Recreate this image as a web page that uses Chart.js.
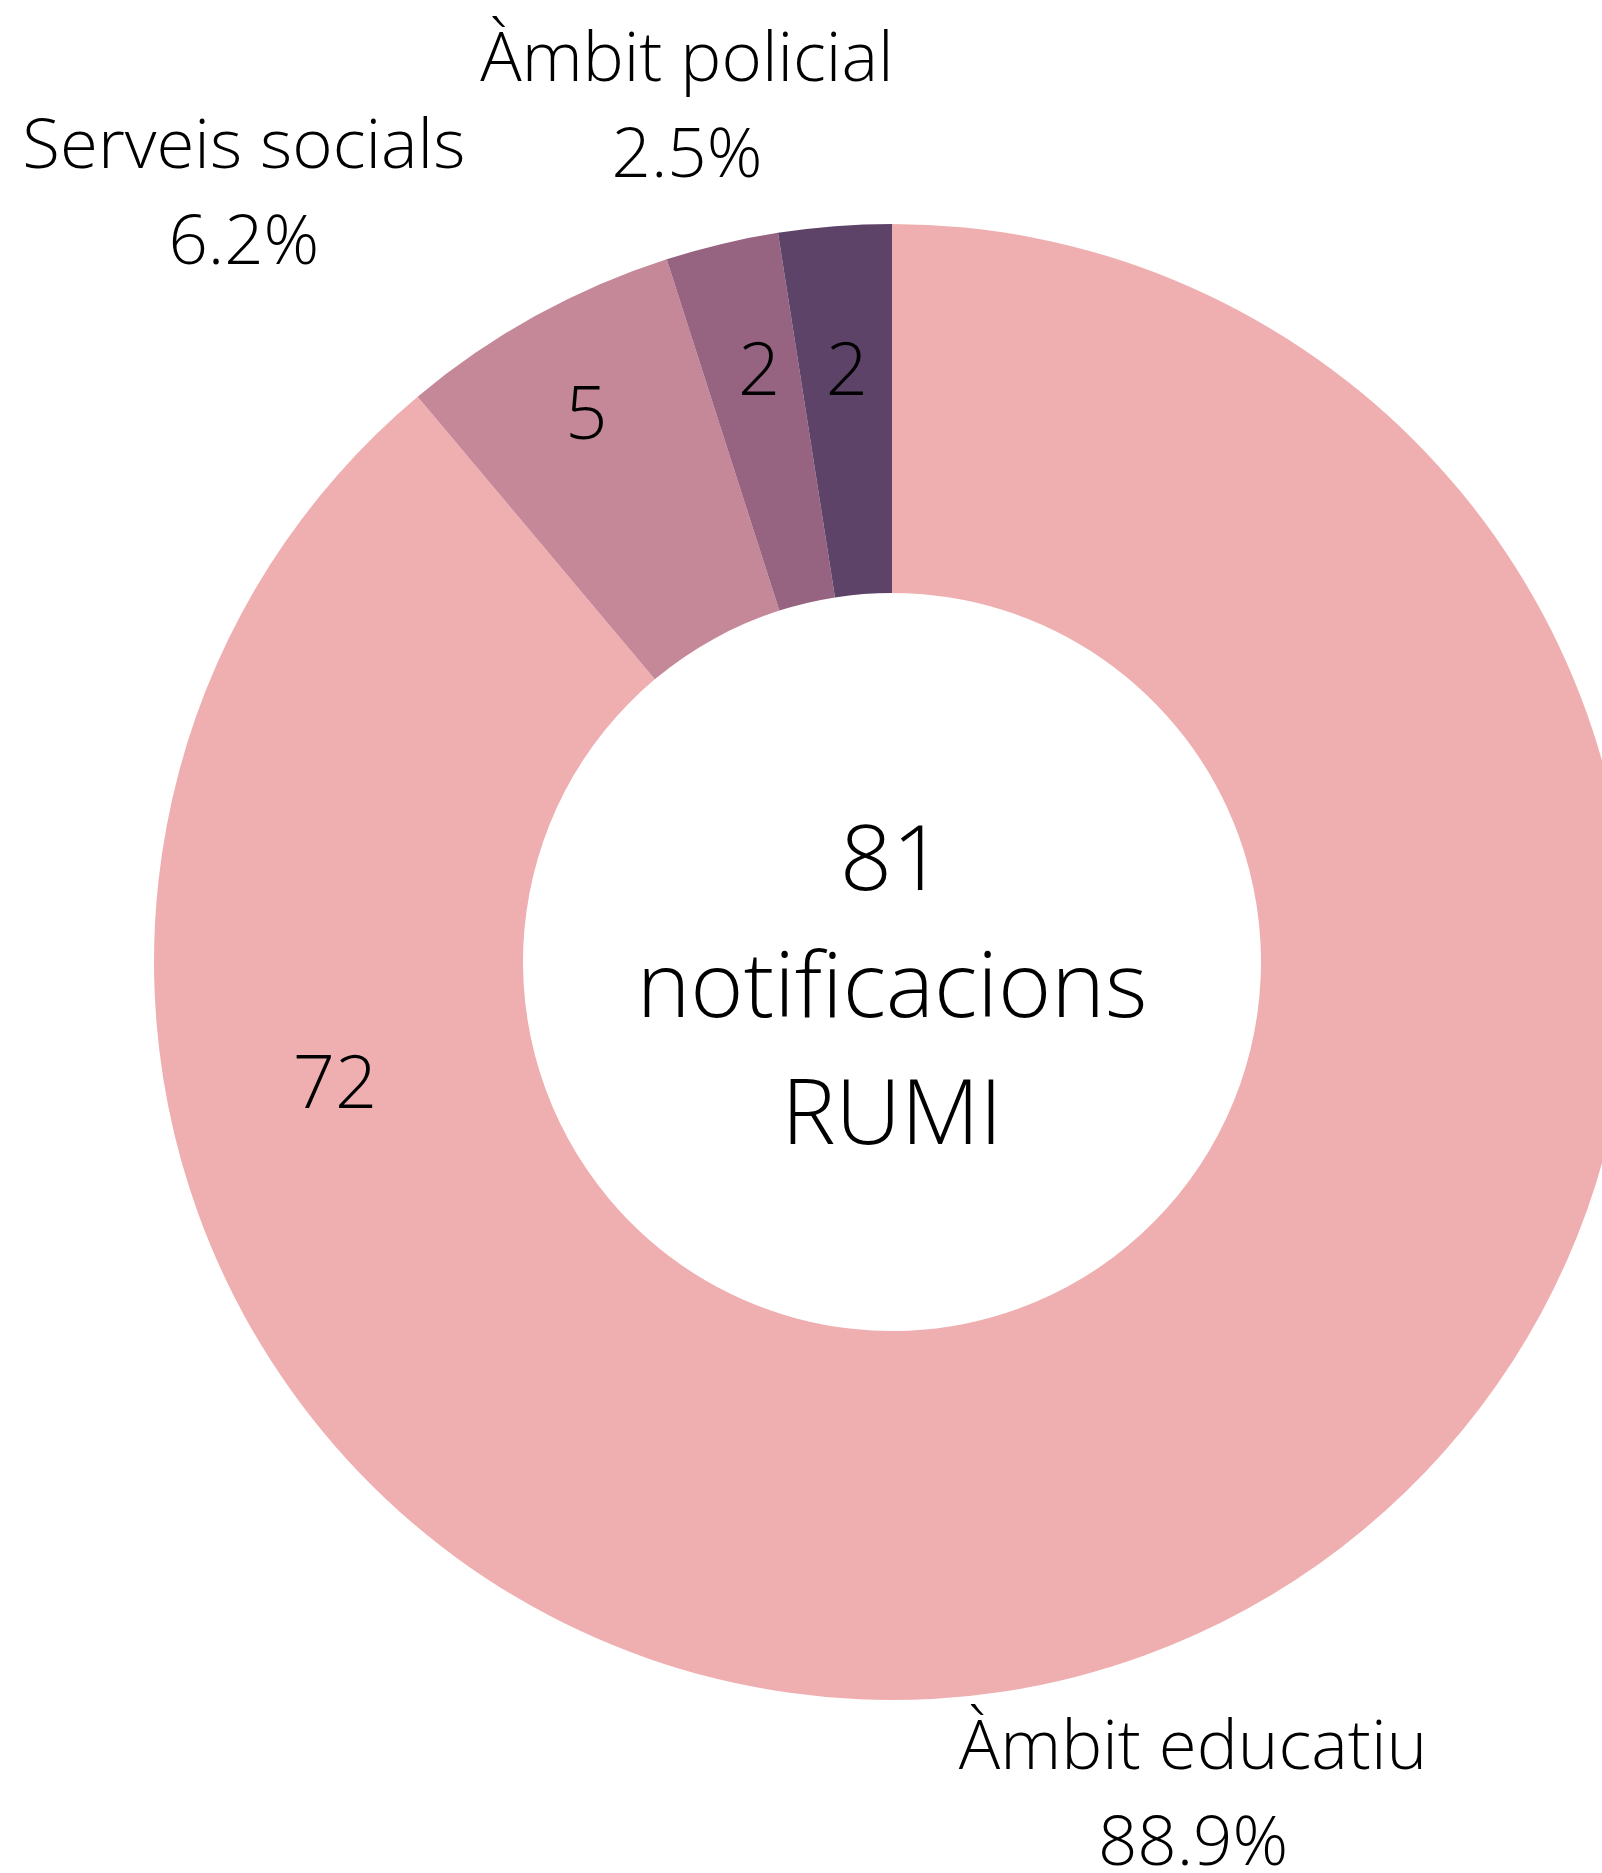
<!DOCTYPE html>
<html lang="ca">
<head>
<meta charset="utf-8">
<title>Notificacions RUMI</title>
<script src="https://cdn.jsdelivr.net/npm/chart.js@4/dist/chart.umd.min.js"></script>
<style>
    html, body {
        margin: 0;
        padding: 0;
        background: #ffffff;
        overflow: hidden;
    }
    #wrap {
        position: absolute;
        left: 0;
        top: 0;
        width: 1784px;
        height: 1873px;
    }
</style>
</head>
<body>
<div id="wrap">
    <canvas id="rumiChart" width="1784" height="1873"></canvas>
</div>
<script>
// Dades
const categories = ['Àmbit educatiu', 'Serveis socials', 'Àmbit policial', ''];
const values = [72, 5, 2, 2];
const centerLines = ['notificacions', 'RUMI'];

// Colors de les porcions
const sliceColors = ['#EFAFB0', '#C48898', '#966381', '#5E4369'];

// Col·locació de les etiquetes (desplaçament angular en graus, distància en fracció del radi exterior)
const valueAngleShift = [97.9, -0.2, 0.7, 0.1];
const valueDist = [0.772, 0.852, 0.824, 0.807];
const outerAngleShift = [0.6, -12.1, -0.5, 0];
const outerDist = [1.228, 1.339, 1.162, 0];

const fontFamily = '"Open Sans", "Noto Sans", sans-serif';
const textColor = '#000000';

const total = values.reduce((a, b) => a + b, 0);

const labelPlugin = {
    id: 'rumiLabels',
    afterDraw(chart) {
        const ctx = chart.ctx;
        const arcs = chart.getDatasetMeta(0).data;
        if (!arcs.length) return;
        const cx = arcs[0].x;
        const cy = arcs[0].y;
        const outerR = arcs[0].outerRadius;

        ctx.save();
        ctx.fillStyle = textColor;
        ctx.textAlign = 'center';
        ctx.textBaseline = 'alphabetic';

        // Valors dins de les porcions
        const valueSize = 74;
        ctx.font = `300 ${valueSize}px ${fontFamily}`;
        arcs.forEach((arc, i) => {
            const mid = (arc.startAngle + arc.endAngle) / 2 + valueAngleShift[i] * Math.PI / 180;
            const r = outerR * valueDist[i];
            const x = cx + Math.cos(mid) * r;
            const y = cy + Math.sin(mid) * r;
            ctx.fillText(String(values[i]), x, y + valueSize * 0.357);
        });

        // Etiquetes exteriors amb percentatge
        const outerSize = 69;
        const outerLineH = 96;
        ctx.font = `300 ${outerSize}px ${fontFamily}`;
        arcs.forEach((arc, i) => {
            if (!categories[i]) return;
            const mid = (arc.startAngle + arc.endAngle) / 2 + outerAngleShift[i] * Math.PI / 180;
            const r = outerR * outerDist[i];
            const x = cx + Math.cos(mid) * r;
            const y = cy + Math.sin(mid) * r;
            const pct = (values[i] / total * 100).toFixed(1) + '%';
            ctx.fillText(categories[i], x, y - outerLineH / 2);
            ctx.fillText(pct, x, y + outerLineH / 2);
        });

        // Text central
        const centerSize = 91;
        const centerLineH = 127;
        ctx.font = `300 ${centerSize}px ${fontFamily}`;
        const lines = [String(total), ...centerLines];
        const base = cy + centerSize * 0.6 - centerLineH;
        lines.forEach((line, i) => {
            ctx.fillText(line, cx, base + i * centerLineH);
        });

        ctx.restore();
    }
};

function drawChart() {
    new Chart(document.getElementById('rumiChart'), {
        type: 'doughnut',
        data: {
            labels: categories,
            datasets: [{
                data: values,
                backgroundColor: sliceColors,
                borderWidth: 0,
                hoverOffset: 0
            }]
        },
        options: {
            responsive: false,
            animation: false,
            cutout: '50%',
            layout: {
                padding: { top: 224, bottom: 173, left: 154, right: 154 }
            },
            plugins: {
                legend: { display: false },
                tooltip: { enabled: false }
            }
        },
        plugins: [labelPlugin]
    });
}

document.fonts.load(`300 70px "Open Sans"`).then(drawChart, drawChart);
</script>
</body>
</html>
